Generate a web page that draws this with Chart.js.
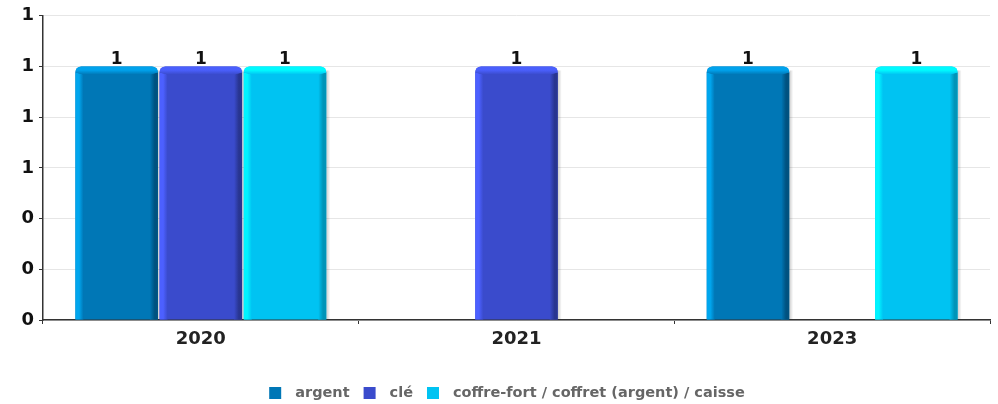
<!DOCTYPE html>
<html>
<head>
<meta charset="utf-8">
<script src="https://cdn.jsdelivr.net/npm/chart.js@4/dist/chart.umd.min.js"></script>
<style>
  html, body { margin: 0; padding: 0; background: #fff; }
  #wrap { width: 998px; height: 404px; }
</style>
</head>
<body>
<div id="wrap"><canvas id="chart" width="998" height="404"></canvas></div>
<script>
const years = ['2020', '2021', '2023'];
const argent = [1, null, 1];
const cle = [1, 1, null];
const coffre = [1, null, 1];
const yTicks = [0, 0.2, 0.4, 0.6, 0.8, 1.0, 1.2];
const seriesNames = ['argent', 'clé', 'coffre-fort / coffret (argent) / caisse'];

const shades = [
    { base: '#0077b6', light: '#00a6ee', dark: '#005280', top: '#00a2ec' },
    { base: '#3a4bcc', light: '#4c60ff', dark: '#283590', top: '#4a5ffc' },
    { base: '#00c3f2', light: '#00f4ff', dark: '#0094b8', top: '#00fbff' },
];

const font = "'DejaVu Sans', sans-serif";

// 3D-looking edges, value labels and the legend, drawn over the plain bars
const bevel = {
    id: 'bevel',
    afterDatasetsDraw(chart) {
        const ctx = chart.ctx;
        chart.data.datasets.forEach((ds, i) => {
            const s = shades[i];
            chart.getDatasetMeta(i).data.forEach((bar, j) => {
                if (ds.data[j] == null) return;
                const { x, y, base, width } = bar.getProps(['x', 'y', 'base', 'width'], true);
                const l = x - width / 2, r = x + width / 2, e = 8, rad = 6;
                ctx.save();
                let g = ctx.createLinearGradient(r, 0, r + 4, 0);
                g.addColorStop(0, 'rgba(0,0,0,0.2)');
                g.addColorStop(1, 'rgba(0,0,0,0)');
                ctx.fillStyle = g;
                ctx.fillRect(r, y + 4, 4, base - y - 4);

                g = ctx.createLinearGradient(l, 0, l + e, 0);
                g.addColorStop(0, s.light);
                g.addColorStop(0.45, s.light);
                g.addColorStop(1, s.base);
                ctx.fillStyle = g;
                ctx.beginPath();
                ctx.moveTo(l, y + rad);
                ctx.lineTo(l + e, y + e);
                ctx.lineTo(l + e, base);
                ctx.lineTo(l, base);
                ctx.closePath();
                ctx.fill();

                g = ctx.createLinearGradient(r - e, 0, r, 0);
                g.addColorStop(0, s.base);
                g.addColorStop(0.6, s.dark);
                g.addColorStop(1, s.dark);
                ctx.fillStyle = g;
                ctx.beginPath();
                ctx.moveTo(r, y + rad);
                ctx.lineTo(r - e, y + e);
                ctx.lineTo(r - e, base);
                ctx.lineTo(r, base);
                ctx.closePath();
                ctx.fill();

                g = ctx.createLinearGradient(0, y, 0, y + e);
                g.addColorStop(0, s.top);
                g.addColorStop(0.45, s.top);
                g.addColorStop(1, s.base);
                ctx.fillStyle = g;
                ctx.beginPath();
                ctx.moveTo(l + rad, y);
                ctx.lineTo(r - rad, y);
                ctx.quadraticCurveTo(r, y, r, y + rad);
                ctx.lineTo(r - e, y + e);
                ctx.lineTo(l + e, y + e);
                ctx.lineTo(l, y + rad);
                ctx.quadraticCurveTo(l, y, l + rad, y);
                ctx.closePath();
                ctx.fill();

                ctx.fillStyle = '#111';
                ctx.font = 'bold 17px ' + font;
                ctx.textAlign = 'center';
                ctx.textBaseline = 'alphabetic';
                ctx.fillText(String(Math.round(ds.data[j])), x, y - 3);
                ctx.restore();
            });
        });
    },
    afterDraw(chart) {
        const ctx = chart.ctx;
        ctx.save();
        ctx.font = 'bold 14.5px ' + font;
        const box = 12, gapText = 14, gapItem = 14, cy = 393;
        const widths = seriesNames.map(t => box + gapText + ctx.measureText(t).width);
        const total = widths.reduce((a, b) => a + b, 0) + gapItem * (widths.length - 1);
        let x = (chart.width - total) / 2 + 8;
        seriesNames.forEach((t, i) => {
            ctx.fillStyle = shades[i].base;
            ctx.fillRect(x, cy - box / 2, box, box);
            ctx.fillStyle = '#666';
            ctx.textAlign = 'left';
            ctx.textBaseline = 'middle';
            ctx.fillText(t, x + box + gapText, cy);
            x += widths[i] + gapItem;
        });
        ctx.restore();
    },
};

new Chart(document.getElementById('chart'), {
    type: 'bar',
    data: {
        labels: years,
        datasets: seriesNames.map((name, i) => ({
            label: name,
            data: [argent, cle, coffre][i],
            backgroundColor: shades[i].base,
            borderRadius: { topLeft: 6, topRight: 6 },
            borderSkipped: 'bottom',
            categoryPercentage: 0.8,
            barPercentage: 0.98,
        })),
    },
    options: {
        responsive: false,
        animation: false,
        layout: { padding: { top: 15, right: 8, left: 0, bottom: 54 } },
        plugins: {
            tooltip: { enabled: false },
            legend: { display: false },
        },
        scales: {
            x: {
                grid: { drawOnChartArea: false, tickLength: 4, tickColor: '#333' },
                border: { color: '#333', width: 1.5 },
                ticks: { color: '#222', font: { family: font, size: 18, weight: 'bold' }, padding: 5 },
                afterFit(scale) { scale.height = 30; },
            },
            y: {
                min: 0,
                max: 1.2,
                afterBuildTicks(scale) { scale.ticks = yTicks.map(v => ({ value: v })); },
                grid: { color: '#e6e6e6', tickLength: 4, tickColor: '#333' },
                border: { color: '#333', width: 1.5 },
                ticks: {
                    color: '#111',
                    font: { family: font, size: 18, weight: 'bold' },
                    padding: 5,
                    callback: v => String(Math.round(v)),
                },
                afterFit(scale) { scale.width = 43; },
            },
        },
    },
    plugins: [bevel],
});
</script>
</body>
</html>
